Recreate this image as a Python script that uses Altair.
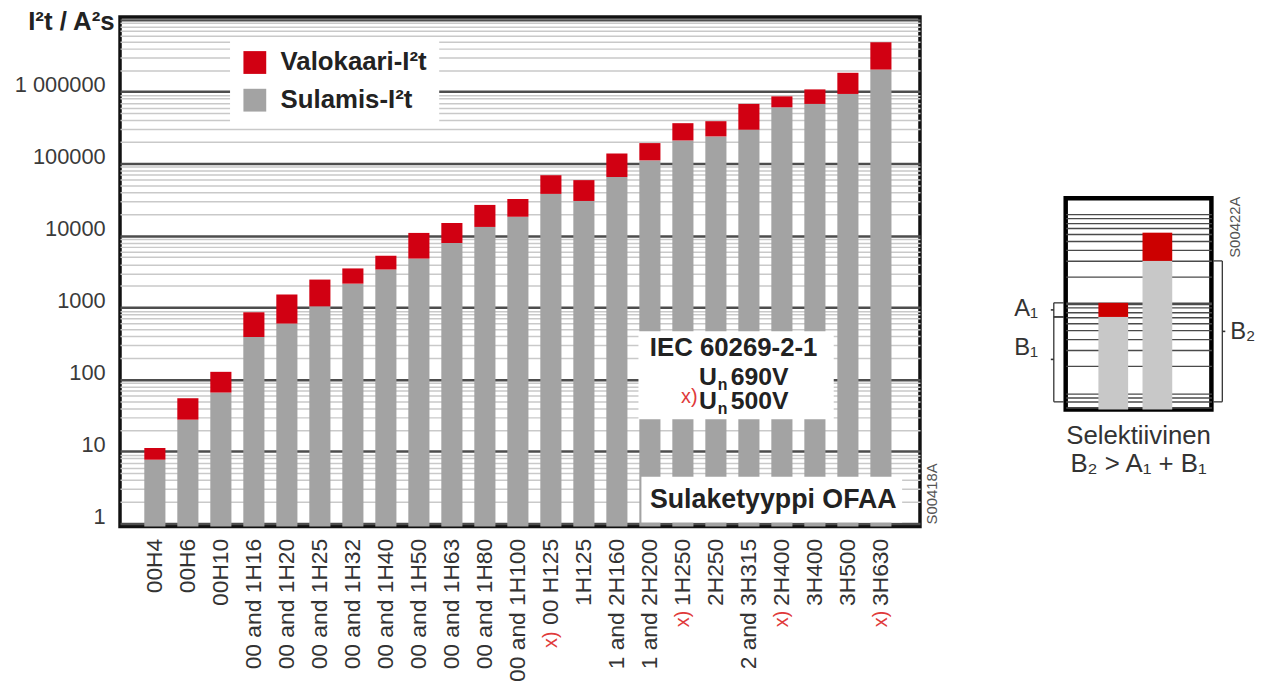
import altair as alt
import pandas as pd

# ---------------- data ----------------
categories = ["00H4", "00H6", "00H10", "00 and 1H16", "00 and 1H20", "00 and 1H25",
              "00 and 1H32", "00 and 1H40", "00 and 1H50", "00 and 1H63", "00 and 1H80",
              "00 and 1H100", "00 H125", "1H125", "1 and 2H160", "1 and 2H200",
              "1H250", "2H250", "2 and 3H315", "2H400", "3H400", "3H500", "3H630"]
sulamis = [7.7, 27.7, 66, 390, 600, 1040, 2150, 3380, 4800, 7900, 13200, 18300,
           38000, 30300, 65000, 111000, 210000, 239000, 296000, 607000, 676000, 930000, 2030000]
valokaari = [11.2, 55, 128, 860, 1520, 2450, 3500, 5250, 10900, 15000, 26700, 32300,
             69000, 59000, 138000, 193000, 365000, 389000, 676000, 861000, 1076000, 1830000, 4860000]
marked_long = ["00 H125"]
marked_short = ["1H250", "2H400", "3H630"]

inset_bars = ["B1", "B2"]
inset_sulamis = [7.1, 30.0]
inset_valokaari = [10.2, 62.0]
inset_base = 0.8

SEG_V = "Valokaari-I²t"
SEG_S = "Sulamis-I²t"

FONT = "Liberation Sans"
Y_MIN, Y_MAX = 0.91, 1.094e7
W, H = 807, 514
IW, IH = 147, 213
I_MIN, I_MAX = 0.658, 150

rows = []
for c, s, v in zip(categories, sulamis, valokaari):
    rows.append({"cat": c, "seg": SEG_S, "lo": Y_MIN, "hi": s})
    rows.append({"cat": c, "seg": SEG_V, "lo": s, "hi": v})
bars_df = pd.DataFrame(rows)

DEC = "abs(log(datum.value)/LN10 - round(log(datum.value)/LN10)) < 0.000001"
LAB = "(" + DEC + ") && datum.value <= 1000000"
grid_vals = [k * 10 ** d for d in range(0, 7) for k in range(1, 10)] + [10 ** 7]

one = pd.DataFrame({"a": [0]})


def label(text, x, y, size, weight="normal", color="#222222", align="left",
          baseline="middle", angle=0, opacity=1):
    return alt.Chart(one).mark_text(
        text=text, font=FONT, fontSize=size, fontWeight=weight, color=color,
        align=align, baseline=baseline, angle=angle, opacity=opacity
    ).encode(x=alt.value(x), y=alt.value(y))


def box(x, x2, y, y2):
    return alt.Chart(one).mark_rect(fill="white").encode(
        x=alt.value(x), x2=alt.value(x2), y=alt.value(y), y2=alt.value(y2))


xaxis = alt.Axis(title=None, labelAngle=270, labelFontSize=23, labelFont=FONT,
                 labelColor="#333333", labelPadding=12, ticks=False, domain=False,
                 grid=False, labelAlign="right", labelBaseline="middle")

yaxis = alt.Axis(
    values=grid_vals, grid=True,
    gridColor={"condition": {"test": DEC, "value": "#4d4d4d"}, "value": "#c9c9c9"},
    gridWidth={"condition": {"test": DEC, "value": 2.5}, "value": 1.5},
    ticks=False, domain=False, labelOverlap=False,
    labelExpr=LAB + " ? (datum.value == 1000000 ? '1 000000' : format(datum.value, 'd')) : ''",
    labelFontSize={"condition": {"test": LAB, "value": 22}, "value": 0},
    labelFont=FONT, labelColor="#3a3a3a", labelPadding=15,
    labelBaseline="alphabetic",
    title="I²t / A²s", titleAngle=0, titleFontSize=26, titleFont=FONT,
    titleFontWeight="bold", titleAlign="right", titleBaseline="middle",
    titleX=-6, titleY=5, titleColor="#222222")

bars = alt.Chart(bars_df).mark_bar().encode(
    x=alt.X("cat:N", sort=categories,
            scale=alt.Scale(paddingInner=0.36, paddingOuter=0.8, align=0.46), axis=xaxis),
    y=alt.Y("hi:Q", scale=alt.Scale(type="log", domain=[Y_MIN, Y_MAX], nice=False), axis=yaxis),
    y2="lo:Q",
    color=alt.Color("seg:N", scale=alt.Scale(domain=[SEG_V, SEG_S], range=["#d10012", "#a3a3a3"]),
                    legend=alt.Legend(title=None, orient="none", legendX=111, legendY=21,
                                      fillColor="white", padding=12, symbolType="square",
                                      symbolSize=529, symbolStrokeWidth=0, symbolOpacity=1,
                                      labelFontSize=26, labelFont=FONT, labelFontWeight="bold",
                                      labelColor="#222222", labelOffset=13, rowPadding=12)),
)

red_long = alt.Chart(pd.DataFrame({"cat": marked_long})).mark_text(
    text="x)", font=FONT, fontSize=20, color="#e03a3a", angle=270, align="right",
    baseline="middle", dx=-94).encode(x=alt.X("cat:N", sort=categories), y=alt.value(H + 12))
red_short = alt.Chart(pd.DataFrame({"cat": marked_short})).mark_text(
    text="x)", font=FONT, fontSize=20, color="#e03a3a", angle=270, align="right",
    baseline="middle", dx=-73).encode(x=alt.X("cat:N", sort=categories), y=alt.value(H + 12))

main = alt.layer(
    bars,
    box(523, 720, 317, 406),
    box(526, 789, 464, 510),
    label("IEC 60269-2-1", 619, 334, 26, "bold", align="center"),
    label("U", 584, 363, 25, "bold"),
    label("n", 603, 371, 16, "bold"),
    label("690V", 616, 363, 25, "bold"),
    label("x)", 566, 383, 20, color="#e03a3a"),
    label("U", 584, 388, 25, "bold"),
    label("n", 603, 396, 16, "bold"),
    label("500V", 616, 388, 25, "bold"),
    label("Sulaketyyppi OFAA", 659, 487, 27, "bold", align="center"),
    label("S00418A", W + 12, H - 2, 15, color="#555555", angle=270),
    red_long, red_short,
).properties(width=W, height=H)

# ---------------- inset ----------------
irows = []
for b, s, v in zip(inset_bars, inset_sulamis, inset_valokaari):
    irows.append({"bar": b, "part": SEG_S, "lo": I_MIN, "hi": s})
    irows.append({"bar": b, "part": SEG_V, "lo": s, "hi": v})
inset_df = pd.DataFrame(irows)
inset_grid = [k * 10 ** d for d in (-1, 0, 1, 2) for k in range(1, 10) if I_MIN <= k * 10 ** d <= I_MAX]

ibars = alt.Chart(inset_df).mark_bar().encode(
    x=alt.X("bar:N", sort=inset_bars,
            scale=alt.Scale(paddingInner=0.326, paddingOuter=0.815, align=0.455), axis=None),
    y=alt.Y("hi:Q", scale=alt.Scale(type="log", domain=[I_MIN, I_MAX], nice=False),
            axis=alt.Axis(values=inset_grid, grid=True, labels=False, ticks=False, domain=False,
                          title=None, gridColor="#4a4a4a",
                          gridWidth={"condition": {"test": "datum.value == 10", "value": 2.6}, "value": 1.4})),
    y2="lo:Q",
    color=alt.Color("part:N", scale=alt.Scale(domain=[SEG_V, SEG_S], range=["#cc0000", "#c8c8c8"]), legend=None),
)

a1 = (inset_valokaari[0], inset_sulamis[0])
b1 = (inset_sulamis[0], inset_base)
b2 = (inset_sulamis[1], inset_base)
RC = "#333333"
left_v = alt.Chart(pd.DataFrame({"hi": [a1[0], b1[0]], "lo": [a1[1], b1[1]]})).mark_rule(color=RC, strokeWidth=1.3).encode(
    x=alt.value(-12), y="hi:Q", y2="lo:Q")
left_h = alt.Chart(pd.DataFrame({"v": [a1[0], a1[1], b1[0], b1[1]]})).mark_rule(color=RC, strokeWidth=1.3).encode(
    x=alt.value(-12), x2=alt.value(-2), y="v:Q")
left_m = alt.Chart(pd.DataFrame({"v": [(a1[0] * a1[1]) ** 0.5, (b1[0] * b1[1]) ** 0.5]})).mark_rule(color=RC, strokeWidth=1.6).encode(
    x=alt.value(-15), x2=alt.value(-12), y="v:Q")
right_v = alt.Chart(pd.DataFrame({"hi": [b2[0]], "lo": [b2[1]]})).mark_rule(color=RC, strokeWidth=1.3).encode(
    x=alt.value(158), y="hi:Q", y2="lo:Q")
right_h = alt.Chart(pd.DataFrame({"v": [b2[0], b2[1]]})).mark_rule(color=RC, strokeWidth=1.3).encode(
    x=alt.value(149), x2=alt.value(158), y="v:Q")
right_m = alt.Chart(pd.DataFrame({"v": [(b2[0] * b2[1]) ** 0.5]})).mark_rule(color=RC, strokeWidth=1.6).encode(
    x=alt.value(158), x2=alt.value(161), y="v:Q")

inset = alt.layer(
    ibars, left_v, left_h, left_m, right_v, right_h, right_m,
    label("A₁", -52, 112, 24, color="#333333"),
    label("B₁", -52, 151, 24, color="#333333"),
    label("B₂", 166, 135, 24, color="#333333"),
    label("Selektiivinen", IW / 2, 240, 26, color="#333333", align="center"),
    label("B₂ >  A₁ + B₁", IW / 2, 268, 26, color="#333333", align="center"),
    label("S00422A", 171, 60, 15, color="#555555", angle=270),
).properties(width=IW, height=IH, view=alt.ViewBackground(stroke="#000000", strokeWidth=4.5))

spacer = alt.Chart(one).mark_point(opacity=0).encode(
    x=alt.value(0), y=alt.value(5)
).properties(width=IW, height=179, view=alt.ViewBackground(strokeOpacity=0))

right_col = alt.vconcat(spacer, inset, spacing=0)

chart = alt.hconcat(main, right_col, spacing=70).resolve_scale(color="independent").properties(
    padding={"left": 4, "top": -4, "right": 0, "bottom": 0}
).configure_view(stroke="#111111", strokeWidth=3.5)

chart.save("out.html", embed_options={"renderer": "svg", "actions": False})
